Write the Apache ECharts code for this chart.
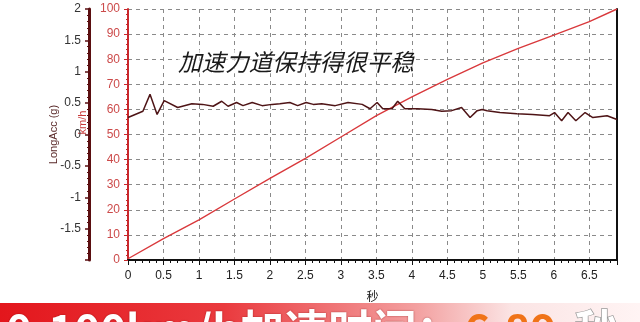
<!DOCTYPE html>
<html>
<head>
<meta charset="utf-8">
<script src="https://cdn.jsdelivr.net/npm/echarts@6/dist/echarts.min.js"></script>
<style>html,body{margin:0;padding:0;background:#fff;}#c{width:640px;height:322px;}</style>
</head>
<body>
<div id="c"></div>
<script>
const xTickLabels = ['0','0.5','1','1.5','2','2.5','3','3.5','4','4.5','5','5.5','6','6.5'];
const accTime = [0,0.21,0.31,0.41,0.51,0.70,0.90,1.05,1.20,1.32,1.41,1.53,1.62,1.75,1.89,2.03,2.14,2.28,2.39,2.51,2.61,2.73,2.92,3.10,3.30,3.41,3.51,3.59,3.72,3.80,3.90,4.08,4.28,4.42,4.56,4.70,4.82,4.92,4.99,5.06,5.24,5.48,5.70,5.94,6.01,6.11,6.20,6.31,6.44,6.55,6.75,6.89];
const accValues = [0.27,0.37,0.64,0.32,0.54,0.43,0.49,0.48,0.45,0.53,0.45,0.51,0.46,0.51,0.46,0.48,0.49,0.51,0.46,0.51,0.48,0.49,0.46,0.51,0.48,0.41,0.51,0.41,0.41,0.53,0.41,0.41,0.40,0.37,0.38,0.43,0.27,0.38,0.40,0.38,0.35,0.33,0.32,0.30,0.35,0.22,0.35,0.22,0.35,0.27,0.30,0.24];
const speedTime = [0,0.5,1,1.5,2,2.5,3,3.5,4,4.5,5,5.5,6,6.5,6.89];
const speedValues = [0.5,8.5,16,24.3,32.5,40.5,49,57.5,65,72,78.5,84.3,89.6,95,100];
const annotation = '加速力道保持得很平稳';
const bannerMain = '0-100km/h加速时间：';
const bannerNum = '6.89';
const bannerUnit = '秒';

const accData = accTime.map((t, i) => [t, accValues[i]]);
const speedData = speedTime.map((t, i) => [t, speedValues[i]]);

const chart = echarts.init(document.getElementById('c'), null, {renderer: 'canvas'});
const F = 'Liberation Sans, Arial, sans-serif';
chart.setOption({
  animation: false,
  backgroundColor: '#fff',
  grid: {left: 128, right: 23, top: 9, bottom: 62},
  xAxis: {
    type: 'value', min: 0, max: 6.89, interval: 0.5,
    name: '秒', nameLocation: 'middle', nameGap: 30,
    nameTextStyle: {color: '#222', fontSize: 12, fontFamily: 'Noto Sans CJK SC'},
    axisLine: {show: true, onZero: false, lineStyle: {color: '#111', width: 2}},
    axisTick: {show: true, inside: false, length: 5, lineStyle: {color: '#111', width: 1}},
    minorTick: {show: true, splitNumber: 5, length: 3, lineStyle: {color: '#111'}},
    axisLabel: {color: '#222', fontSize: 12, fontFamily: F, margin: 10, showMaxLabel: false,
      formatter: v => { const i = Math.round(v / 0.5); return xTickLabels[i] !== undefined ? xTickLabels[i] : ''; }},
    splitLine: {show: true, lineStyle: {color: '#8a8a8a', type: [4, 4], width: 1}}
  },
  yAxis: [
    {
      type: 'value', min: 0, max: 100, interval: 10, position: 'left',
      name: 'km/h', nameLocation: 'middle', nameGap: 40, nameMoveOverlap: false,
      nameTextStyle: {color: '#c83a3a', fontSize: 11, fontFamily: F, padding: [0, 0, 0, 24]},
      axisLine: {show: true, lineStyle: {color: '#c8282c', width: 2}},
      axisTick: {show: true, length: 4, lineStyle: {color: '#c8282c'}},
      minorTick: {show: true, splitNumber: 5, length: 2, lineStyle: {color: '#c8282c'}},
      axisLabel: {color: '#cc4a4a', fontSize: 12, fontFamily: F, margin: 8},
      splitLine: {show: true, lineStyle: {color: '#8a8a8a', type: [4, 4], width: 1}}
    },
    {
      type: 'value', min: -2, max: 2, interval: 0.5, position: 'left', offset: 39,
      name: 'LongAcc (g)', nameLocation: 'middle', nameGap: 30, nameMoveOverlap: false,
      nameTextStyle: {color: '#5a2a2a', fontSize: 11, fontFamily: F},
      axisLine: {show: true, lineStyle: {color: '#5a0e10', width: 3}},
      axisTick: {show: true, length: 4, lineStyle: {color: '#5a0e10', width: 1.5}},
      minorTick: {show: true, splitNumber: 5, length: 2, lineStyle: {color: '#5a0e10'}},
      axisLabel: {color: '#333', fontSize: 12, fontFamily: F, margin: 8, showMinLabel: false},
      splitLine: {show: false}
    },
    {
      type: 'value', min: 0, max: 100, position: 'right',
      axisLine: {show: true, lineStyle: {color: '#111', width: 2}},
      axisTick: {show: false}, axisLabel: {show: false}, splitLine: {show: false}
    }
  ],
  series: [
    {
      type: 'line', yAxisIndex: 0, data: speedData, symbol: 'none',
      lineStyle: {color: '#d9393c', width: 1.4}, z: 3
    },
    {
      type: 'line', yAxisIndex: 1, data: accData, symbol: 'none',
      lineStyle: {color: '#4e1416', width: 1.5}, z: 4
    }
  ],
  graphic: [
    {
      type: 'text', left: 178, top: 50, z: 10,
      style: {text: annotation, fill: '#1a1a1a', fontSize: 23.6, fontStyle: 'italic',
        fontFamily: 'Noto Sans CJK SC', backgroundColor: 'rgba(255,255,255,0.6)'}
    },
    {
      type: 'rect', shape: {x: 0, y: 303, width: 640, height: 19}, z: 5,
      style: {fill: new echarts.graphic.LinearGradient(0, 0, 1, 0, [
        {offset: 0, color: '#e3161c'}, {offset: 0.35, color: '#ea3a3e'},
        {offset: 0.65, color: '#f3a0a0'}, {offset: 0.8, color: '#fbe4e4'}, {offset: 1, color: '#fff4f4'}])}
    },
    {
      type: 'text', x: 6, y: 308, z: 6,
      style: {
        text: '{a|' + bannerMain + '}{b|' + bannerNum + '}{c|' + bannerUnit + '}',
        rich: {
          a: {fill: '#fff', fontSize: 44, fontWeight: 'bold', fontFamily: 'Noto Sans CJK SC', textShadowColor: 'rgba(120,0,0,0.6)', textShadowBlur: 2},
          b: {fill: '#f07318', fontSize: 44, fontWeight: 'bold', fontFamily: 'Noto Sans CJK SC', padding: [0, 18, 0, 4]},
          c: {fill: '#fff', fontSize: 44, fontWeight: 'bold', fontFamily: 'Noto Sans CJK SC', stroke: '#999', lineWidth: 1.5}
        },
        verticalAlign: 'top'
      }
    }
  ]
});
</script>
</body>
</html>
